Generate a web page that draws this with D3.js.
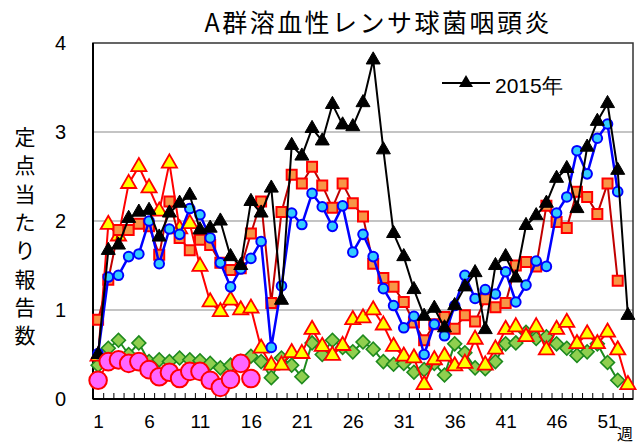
<!DOCTYPE html>
<html>
<head>
<meta charset="utf-8">
<script src="https://cdn.jsdelivr.net/npm/d3@7"></script>
<style>
  body { margin: 0; background: #fff; }
  svg { display: block; }
</style>
</head>
<body>
<div id="chart"></div>
<script>
// weeks of the year (2015 has 53)
const weeks = [1,2,3,4,5,6,7,8,9,10,11,12,13,14,15,16,17,18,19,20,21,22,23,24,25,26,27,
    28,29,30,31,32,33,34,35,36,37,38,39,40,41,42,43,44,45,46,47,48,49,50,51,52,53];
const tickWeeks = [1,6,11,16,21,26,31,36,41,46,51];
const yTicks = [0,1,2,3,4];

// green diamonds
const values2011 = [0.38,0.57,0.66,0.5,0.63,0.42,0.44,0.42,0.46,0.44,0.43,0.4,0.35,0.38,0.42,0.48,0.42,0.24,0.46,0.38,
    0.25,0.63,0.5,0.66,0.58,0.53,0.64,0.56,0.42,0.39,0.4,0.3,0.33,0.4,0.27,0.62,0.52,0.35,0.34,0.42,
    0.62,0.63,0.75,0.68,0.7,0.62,0.57,0.49,0.53,0.62,0.41,0.21,null];
// yellow triangles
const values2012 = [0.48,1.96,1.83,2.42,2.61,2.37,2.11,2.65,1.91,1.97,1.49,1.09,0.98,1.11,1.0,1.02,0.57,0.38,0.38,0.52,
    0.51,0.78,0.59,0.49,0.6,0.89,0.91,1.0,0.83,0.59,0.48,0.46,0.16,0.44,0.48,0.37,0.4,0.67,0.38,0.56,
    0.78,0.81,0.7,0.81,0.55,0.78,0.86,0.62,0.73,0.62,0.75,0.55,0.16];
// orange squares
const values2013 = [0.89,1.34,1.9,1.9,1.97,1.94,1.62,2.22,1.81,1.67,1.79,1.73,1.53,1.45,1.47,1.86,2.22,1.08,2.1,2.52,
    2.42,2.61,2.4,2.15,2.42,2.2,2.05,1.52,1.36,1.26,1.09,0.86,0.66,0.84,0.92,0.79,0.94,0.87,1.12,1.03,
    1.08,1.5,1.54,1.49,2.17,1.99,1.92,2.33,2.27,2.08,2.42,1.33,null];
// blue circles
const values2014 = [0.51,1.37,1.39,1.6,1.63,2.0,1.52,1.91,1.85,2.14,2.07,1.81,1.53,1.26,1.46,1.58,1.77,0.58,1.27,2.09,
    1.96,2.31,2.16,1.94,2.17,1.65,1.85,1.6,1.24,1.05,0.8,0.93,0.5,0.84,0.71,1.05,1.39,1.13,1.23,1.18,
    1.43,1.09,1.28,1.55,1.49,2.09,2.27,2.79,2.53,2.93,3.09,2.33,null];
// black triangles
const values2015 = [0.5,1.67,1.73,2.03,2.1,2.12,1.82,2.09,2.2,2.29,1.9,1.92,2.0,1.6,1.5,2.22,2.09,2.37,1.11,2.85,
    2.73,3.04,2.9,3.31,3.08,3.06,3.33,3.81,2.8,1.86,1.6,1.23,0.93,1.02,0.8,1.05,1.26,1.42,0.78,1.5,
    1.6,1.36,1.95,2.06,2.2,2.48,2.59,2.14,2.83,3.12,3.32,2.57,0.94];
// pink circles (current year)
const values2016 = [0.21,0.42,0.44,0.4,0.42,0.33,0.25,0.3,0.23,0.31,0.31,0.21,0.13,0.22,0.4,0.23];

const jpFont = "'Noto Sans CJK JP', sans-serif";
const numFont = "'Liberation Sans', Arial, sans-serif";

const width = 643, height = 448;
const plot = {left: 93, right: 633, top: 43, bottom: 399};

const x = d3.scaleLinear().domain([0.5, 53.5]).range([plot.left, plot.right]);
const y = d3.scaleLinear().domain([0, 4]).range([plot.bottom, plot.top]);

const svg = d3.select("#chart").append("svg")
    .attr("width", width)
    .attr("height", height);

// gridlines
svg.append("g")
    .selectAll("line")
    .data(yTicks.filter(d => d > 0 && d < 4))
    .join("line")
    .attr("x1", plot.left).attr("x2", plot.right)
    .attr("y1", d => y(d)).attr("y2", d => y(d))
    .attr("stroke", "#c4c4c4")
    .attr("stroke-width", 2);

// frame
svg.append("rect")
    .attr("x", plot.left).attr("y", plot.top)
    .attr("width", plot.right - plot.left)
    .attr("height", plot.bottom - plot.top)
    .attr("fill", "none")
    .attr("stroke", "#333")
    .attr("stroke-width", 1.5);

// x axis: minor ticks between weeks, pointing inward
const minorTicks = weeks.slice(0, -1).map(w => w + 0.5);
svg.append("g")
    .attr("transform", "translate(0," + plot.bottom + ")")
    .call(d3.axisBottom(x).tickValues(minorTicks).tickSize(-6).tickFormat(""))
    .call(g => g.select(".domain").remove())
    .selectAll("line").attr("stroke", "#000").attr("stroke-width", 1);

svg.append("g")
    .attr("transform", "translate(0," + plot.bottom + ")")
    .call(d3.axisBottom(x).tickValues(tickWeeks).tickSize(0).tickPadding(16))
    .call(g => g.select(".domain").remove())
    .selectAll("text")
    .attr("font-family", numFont)
    .attr("font-size", 19)
    .attr("fill", "#000");

// y axis
svg.append("g")
    .attr("transform", "translate(" + plot.left + ",0)")
    .call(d3.axisLeft(y).tickValues(yTicks).tickSize(0).tickPadding(27).tickFormat(d3.format("d")))
    .call(g => g.select(".domain").remove())
    .selectAll("text")
    .attr("font-family", numFont)
    .attr("font-size", 20)
    .attr("fill", "#000");

// axis lines
svg.append("line")
    .attr("x1", plot.left).attr("x2", plot.left)
    .attr("y1", plot.top).attr("y2", plot.bottom)
    .attr("stroke", "#000").attr("stroke-width", 2);
svg.append("line")
    .attr("x1", plot.left).attr("x2", plot.right)
    .attr("y1", plot.bottom).attr("y2", plot.bottom)
    .attr("stroke", "#000").attr("stroke-width", 2);

const triangle = d3.symbol().type(d3.symbolTriangle);
const square = d3.symbol().type(d3.symbolSquare);

const series = [
    {values: values2011, line: "#1e8a1e", lineWidth: 2, shape: square, size: 96, rotate: 45,
        fill: "#8fcf4f", stroke: "#1e8a1e", strokeWidth: 1.6},
    {values: values2012, line: "#ff0000", lineWidth: 2, shape: triangle, size: 100, rotate: 0,
        fill: "#ffff00", stroke: "#ff0000", strokeWidth: 1.8},
    {values: values2013, line: "#c00000", lineWidth: 2, shape: square, size: 100, rotate: 0,
        fill: "#f79646", stroke: "#ff0000", strokeWidth: 2},
    {values: values2014, line: "#0000ff", lineWidth: 2.5, shape: null, radius: 4.8,
        fill: "#33ccff", stroke: "#0000ff", strokeWidth: 2},
    {values: values2015, line: "#000000", lineWidth: 2, shape: triangle, size: 85, rotate: 0,
        fill: "#000000", stroke: "#000000", strokeWidth: 1},
    {values: values2016, line: "#ff0000", lineWidth: 2, shape: null, radius: 8.8,
        fill: "#ff66ff", stroke: "#ff0000", strokeWidth: 2}
];

const lineGen = d3.line()
    .defined(d => d.v != null)
    .x(d => x(d.w))
    .y(d => y(d.v));

series.forEach(function (s) {
    const points = s.values.map((v, i) => ({w: weeks[i], v: v}));
    const g = svg.append("g");

    g.append("path")
        .datum(points)
        .attr("d", lineGen)
        .attr("fill", "none")
        .attr("stroke", s.line)
        .attr("stroke-width", s.lineWidth)
        .attr("stroke-linejoin", "round");

    const marks = points.filter(d => d.v != null);
    if (s.shape) {
        g.selectAll("path.mark")
            .data(marks)
            .join("path")
            .attr("class", "mark")
            .attr("d", s.shape.size(s.size))
            .attr("transform", d => "translate(" + x(d.w) + "," + y(d.v) + ") rotate(" + s.rotate + ")")
            .attr("fill", s.fill)
            .attr("stroke", s.stroke)
            .attr("stroke-width", s.strokeWidth);
    } else {
        g.selectAll("circle")
            .data(marks)
            .join("circle")
            .attr("cx", d => x(d.w))
            .attr("cy", d => y(d.v))
            .attr("r", s.radius)
            .attr("fill", s.fill)
            .attr("stroke", s.stroke)
            .attr("stroke-width", s.strokeWidth);
    }
});

// legend
const legend = svg.append("g").attr("transform", "translate(442,83)");
legend.append("line")
    .attr("x1", 0).attr("x2", 48)
    .attr("stroke", "#000").attr("stroke-width", 2);
legend.append("path")
    .attr("d", triangle.size(85))
    .attr("transform", "translate(24,0)")
    .attr("fill", "#000");
legend.append("text")
    .attr("x", 53).attr("y", 10)
    .attr("font-family", numFont)
    .attr("font-size", 21)
    .text("2015年");

// title
svg.append("text")
    .attr("x", 377).attr("y", 32)
    .attr("text-anchor", "middle")
    .attr("font-family", jpFont)
    .attr("font-size", 25)
    .attr("textLength", 345)
    .attr("lengthAdjust", "spacing")
    .text("A群溶血性レンサ球菌咽頭炎");

// y label, stacked vertically
const yLabel = "定点当たり報告数";
svg.append("text")
    .attr("font-family", jpFont)
    .attr("font-size", 21)
    .attr("text-anchor", "middle")
    .selectAll("tspan")
    .data(Array.from(yLabel))
    .join("tspan")
    .attr("x", 25)
    .attr("y", (d, i) => 145 + i * 28.3)
    .text(d => d);

// x unit
svg.append("text")
    .attr("x", 625).attr("y", 440)
    .attr("text-anchor", "middle")
    .attr("font-family", jpFont)
    .attr("font-size", 16)
    .text("週");
</script>
</body>
</html>
